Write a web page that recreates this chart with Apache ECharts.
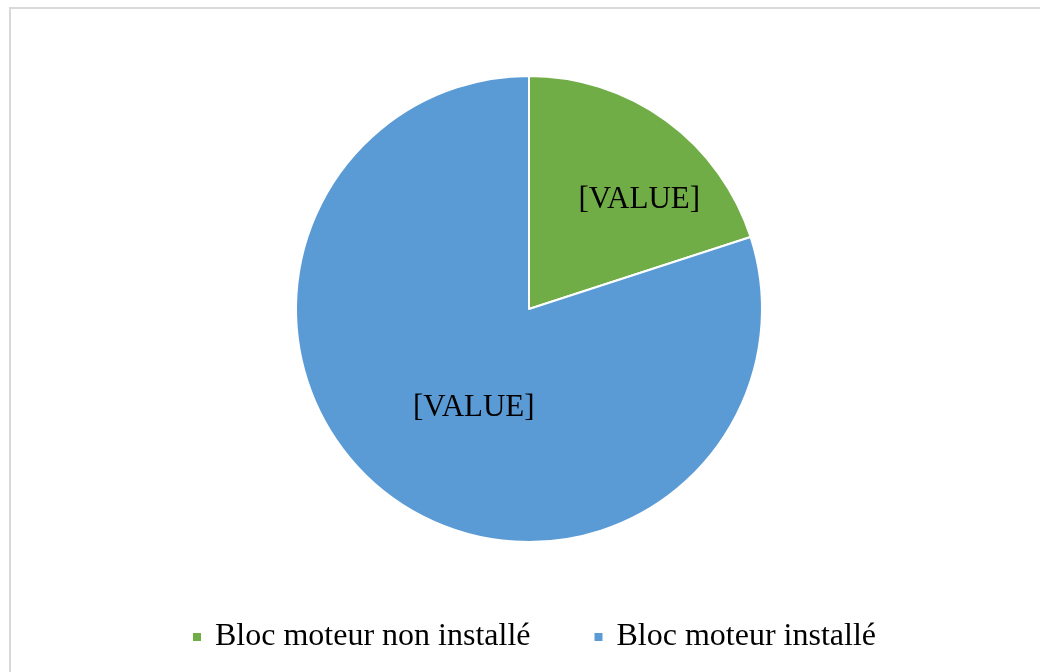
<!DOCTYPE html>
<html>
<head>
<meta charset="utf-8">
<script src="https://cdn.jsdelivr.net/npm/echarts@6/dist/echarts.min.js"></script>
<style>
  html, body { margin: 0; padding: 0; background: #ffffff; overflow: hidden; }
  #frame {
    position: absolute; left: 9px; top: 7px; width: 1100px; height: 700px;
    border-left: 2px solid #d9d9d9; border-top: 2px solid #d9d9d9;
  }
  #chart { position: absolute; left: 0; top: 0; width: 1040px; height: 672px; }
</style>
</head>
<body>
<div id="frame"></div>
<div id="chart"></div>
<script>
  // categories and values
  var categories = ['Bloc moteur non installé', 'Bloc moteur installé'];
  var values = [20, 80];
  var colors = ['#70AD47', '#5B9BD5'];
  var labelText = '[VALUE]';

  var chart = echarts.init(document.getElementById('chart'));

  // nudge labels to where Excel puts them
  var labelShift = [[40, -12], [15, 2]];

  var option = {
    animation: false,
    legend: {
      bottom: 14,
      left: 186,
      icon: 'rect',
      itemWidth: 10,
      itemHeight: 10,
      itemGap: 62,
      textStyle: {
        fontFamily: 'Liberation Serif', fontSize: 32, color: '#000',
        padding: [0, 0, 0, 8]
      },
      data: categories
    },
    series: [{
      type: 'pie',
      center: [529, 309],
      radius: 233,
      startAngle: 90,
      clockwise: true,
      itemStyle: { borderColor: '#fff', borderWidth: 2 },
      label: {
        show: true,
        position: 'inside',
        formatter: labelText,
        fontFamily: 'Liberation Serif',
        fontSize: 31,
        color: '#000'
      },
      labelLine: { show: false },
      emphasis: { disabled: true },
      labelLayout: function (params) {
        var s = labelShift[params.dataIndex] || [0, 0];
        return { dx: s[0], dy: s[1] };
      },
      data: categories.map(function (c, i) {
        return { name: c, value: values[i], itemStyle: { color: colors[i] } };
      })
    }]
  };

  chart.setOption(option);
</script>
</body>
</html>
